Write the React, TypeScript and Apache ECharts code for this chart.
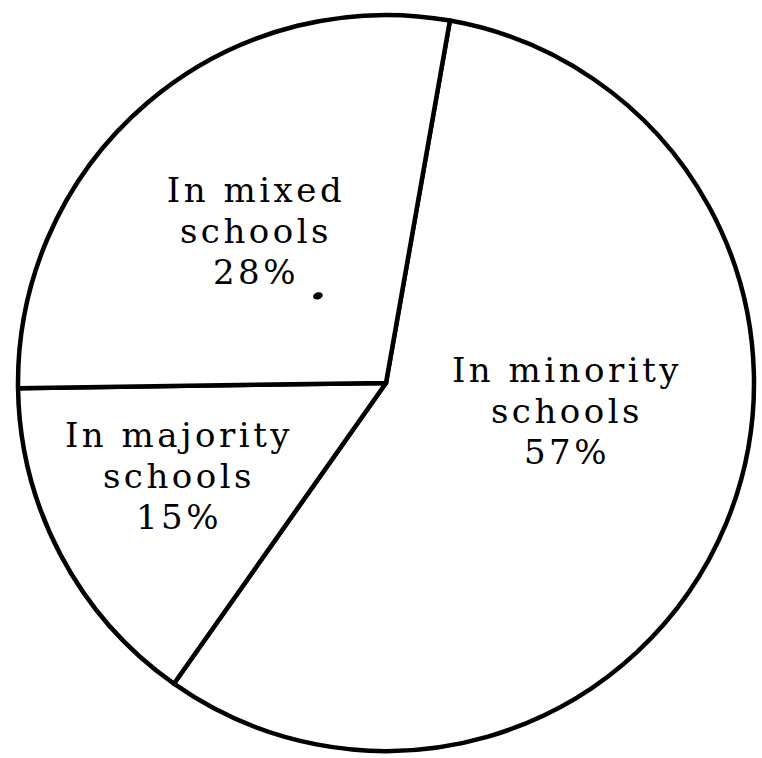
import React, { useEffect, useRef } from "react";
import * as echarts from "echarts";

const categories = ["In minority schools", "In majority schools", "In mixed schools"];
const shares = [57, 15, 28];

// label centres (layout only)
const labelPos: [number, number][] = [
  [567, 411],
  [179, 476],
  [256, 231],
];

export default function App() {
  const ref = useRef<HTMLDivElement>(null);
  useEffect(() => {
    if (!ref.current) return;
    const chart = echarts.init(ref.current, undefined, { renderer: "svg" });
    chart.setOption({
      animation: false,
      backgroundColor: "#ffffff",
      graphic: [
        {
          type: "ellipse",
          shape: { cx: 318, cy: 296, rx: 5, ry: 3.5 },
          rotation: 0.35,
          originX: 318,
          originY: 296,
          style: { fill: "#000" },
          z: 10,
        },
      ],
      series: [
        {
          type: "pie",
          center: [386, 383],
          radius: [0, 368],
          startAngle: 80,
          clockwise: true,
          avoidLabelOverlap: false,
          silent: true,
          itemStyle: { color: "#ffffff", borderColor: "#000000", borderWidth: 4.5 },
          label: {
            show: true,
            position: "inside",
            color: "#000",
            fontFamily: "DejaVu Serif",
            fontSize: 34,
            lineHeight: 41,
            align: "center",
            formatter: (p: any) => p.name.replace(" schools", "\nschools") + "\n" + p.value + "%",
          },
          labelLine: { show: false },
          labelLayout: (p: any) => ({
            x: labelPos[p.dataIndex][0],
            y: labelPos[p.dataIndex][1],
            align: "center",
            verticalAlign: "middle",
          }),
          data: categories.map((c, i) => ({ name: c, value: shares[i] })),
        },
      ],
    });
    ref.current.querySelectorAll("text").forEach((t) => {
      (t as SVGTextElement).style.letterSpacing = "3.5px";
    });
    return () => chart.dispose();
  }, []);
  return (
    <div
      ref={ref}
      style={{ position: "fixed", left: 0, top: 0, width: 762, height: 758, background: "#fff" }}
    />
  );
}
